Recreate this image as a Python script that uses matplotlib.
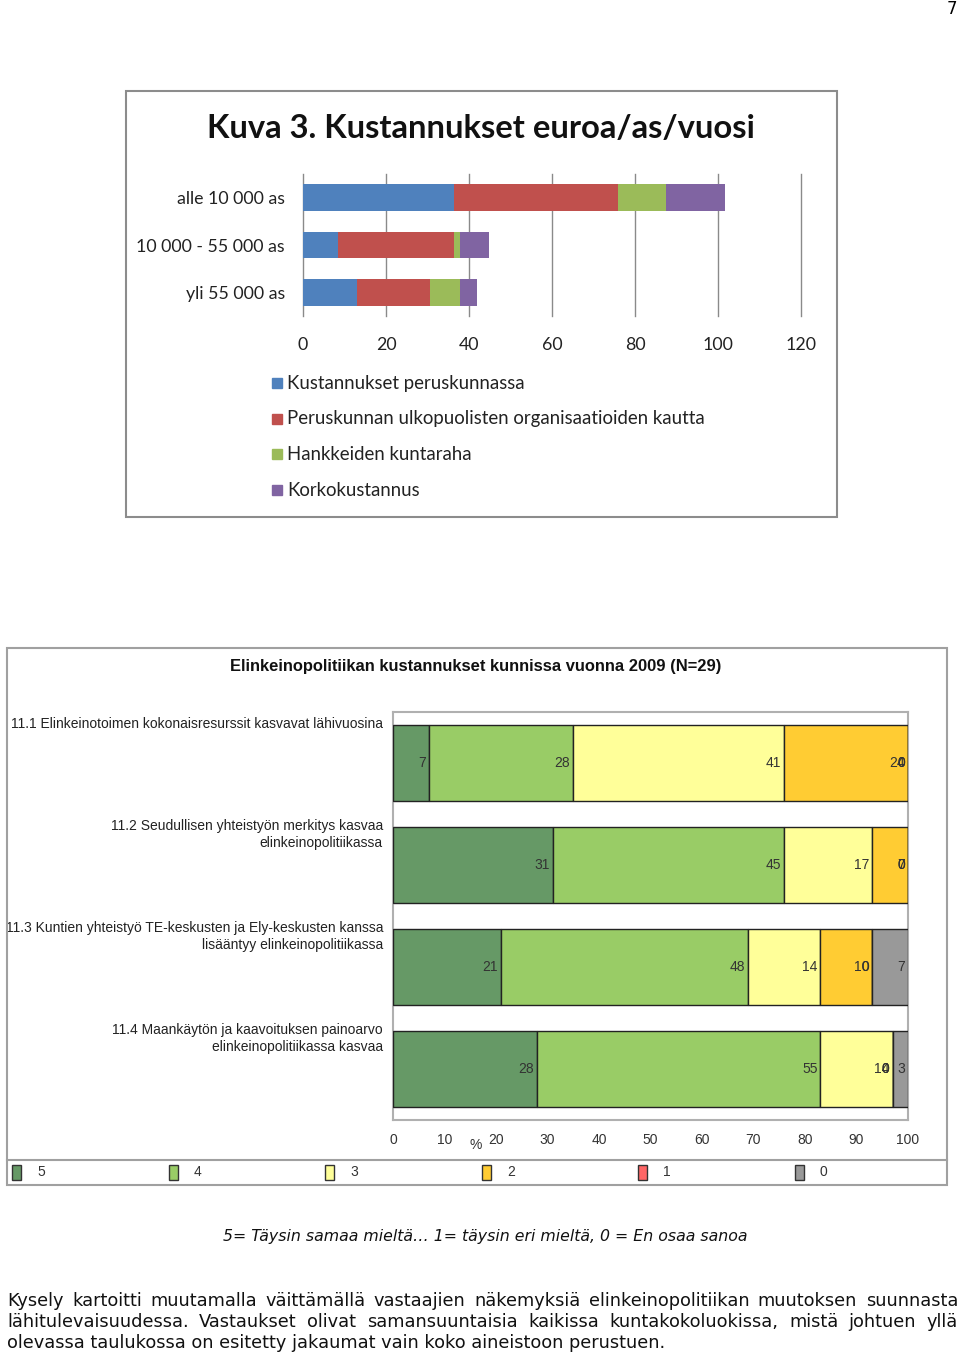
import matplotlib
matplotlib.use("Agg")
import matplotlib.pyplot as plt
from matplotlib.patches import Rectangle
from matplotlib.lines import Line2D
import numpy as np

W, H = 960, 1354

# --- Kuva 3: costs per inhabitant per year ---
size_groups = ["alle 10 000 as", "10 000 - 55 000 as", "yli 55 000 as"]
cost_series = [
    "Kustannukset peruskunnassa",
    "Peruskunnan ulkopuolisten organisaatioiden kautta",
    "Hankkeiden kuntaraha",
    "Korkokustannus",
]
cost_basic = [36.4, 8.4, 13.0]
cost_outside = [39.5, 28.0, 17.5]
cost_projects = [11.6, 1.4, 7.3]
cost_interest = [14.3, 7.0, 4.1]
cost_ticks = [0, 20, 40, 60, 80, 100, 120]

# --- survey, % of answers (N=29) ---
statements = [
    "11.1 Elinkeinotoimen kokonaisresurssit kasvavat lähivuosina",
    "11.2 Seudullisen yhteistyön merkitys kasvaa\nelinkeinopolitiikassa",
    "11.3 Kuntien yhteistyö TE-keskusten ja Ely-keskusten kanssa\nlisääntyy elinkeinopolitiikassa",
    "11.4 Maankäytön ja kaavoituksen painoarvo\nelinkeinopolitiikassa kasvaa",
]
answer_levels = ["5", "4", "3", "2", "1", "0"]
share_5 = [7, 31, 21, 28]
share_4 = [28, 45, 48, 55]
share_3 = [41, 17, 14, 14]
share_2 = [24, 7, 10, 0]
share_1 = [0, 0, 0, 0]
share_0 = [0, 0, 7, 3]
pct_ticks = [0, 10, 20, 30, 40, 50, 60, 70, 80, 90, 100]

paragraph = [
    "Kysely kartoitti muutamalla väittämällä vastaajien näkemyksiä elinkeinopolitiikan muutoksen suunnasta",
    "lähitulevaisuudessa. Vastaukset olivat samansuuntaisia kaikissa kuntakokoluokissa, mistä johtuen yllä",
    "olevassa taulukossa on esitetty jakaumat vain koko aineistoon perustuen.",
]
caption = "5= Täysin samaa mieltä… 1= täysin eri mieltä, 0 = En osaa sanoa"


def px_box(x0, y0, x1, y1):
    return [x0 / W, 1 - y1 / H, (x1 - x0) / W, (y1 - y0) / H]


def frame(fig, x0, y0, x1, y1, color="#a0a0a0", lw=1.5):
    fig.add_artist(Rectangle((x0 / W, 1 - y1 / H), (x1 - x0) / W, (y1 - y0) / H,
                             transform=fig.transFigure, fill=False, ec=color, lw=lw))


def ftext(fig, x, y, s, **kw):
    return fig.text(x / W, 1 - y / H, s, **kw)


fig = plt.figure(figsize=(W / 100, H / 100), dpi=100)
fig.patch.set_facecolor("white")

ftext(fig, 957, 9, "7", ha="right", va="center", fontsize=12, family="DejaVu Sans")

# ---------------- top chart ----------------
calibri = ["Lato", "DejaVu Sans"]
frame(fig, 126, 91, 837, 517, color="#8c8c8c", lw=1.5)
ftext(fig, 481, 129, "Kuva 3. Kustannukset euroa/as/vuosi", ha="center", va="center",
      fontsize=23.6, fontweight="bold", family=calibri, color="#111111")

ax1 = fig.add_axes(px_box(303, 174, 801, 316))
cost_colors = ["#4f81bd", "#c0504d", "#9bbb59", "#8064a2"]
ypos = np.arange(len(size_groups))
left = np.zeros(len(size_groups))
for vals, col in zip([cost_basic, cost_outside, cost_projects, cost_interest], cost_colors):
    ax1.barh(ypos, vals, height=0.57, left=left, color=col, zorder=3)
    left += np.array(vals)
ax1.set_xlim(0, 120)
ax1.set_ylim(2.5, -0.5)
ax1.set_xticks(cost_ticks)
ax1.set_yticks(ypos)
ax1.set_yticklabels(size_groups, family=calibri, fontsize=12.8, color="#222222")
ax1.set_xticklabels([str(t) for t in cost_ticks], family=calibri, fontsize=12.8, color="#222222")
ax1.tick_params(axis="x", length=0, pad=15)
ax1.tick_params(axis="y", length=0, pad=13)
ax1.grid(axis="x", color="#8a8a8a", lw=1, zorder=0)
for gl in ax1.get_xgridlines():
    gl.set_clip_on(False)
for sp in ax1.spines.values():
    sp.set_visible(False)

for i, (name, col) in enumerate(zip(cost_series, cost_colors)):
    yc = 383 + i * 35.7
    fig.add_artist(Rectangle((272 / W, 1 - (yc + 5) / H), 10 / W, 10 / H,
                             transform=fig.transFigure, color=col))
    ftext(fig, 287, yc, name, ha="left", va="center", fontsize=13.4, family=calibri,
          color="#222222")

# ---------------- bottom chart ----------------
arial = ["Liberation Sans", "DejaVu Sans"]
frame(fig, 7, 648, 947, 1185)
fig.add_artist(Line2D([7 / W, 947 / W], [1 - 1160 / H, 1 - 1160 / H],
                      transform=fig.transFigure, color="#a0a0a0", lw=1.5))
ftext(fig, 476, 666, "Elinkeinopolitiikan kustannukset kunnissa vuonna 2009 (N=29)",
      ha="center", va="center", fontsize=11.9, fontweight="bold", family=arial,
      color="#111111")

ax2 = fig.add_axes(px_box(393, 712, 908, 1120))
level_colors = ["#669966", "#99cc66", "#ffff99", "#ffcc33", "#ff6666", "#999999"]
shares = [share_5, share_4, share_3, share_2, share_1, share_0]
bar_h = 0.745
rows = np.arange(len(statements))
left = np.zeros(len(statements))
for vals, col in zip(shares, level_colors):
    ax2.barh(rows, vals, height=bar_h, left=left, color=col, edgecolor="#222222",
             lw=1, zorder=3)
    for r, v in zip(rows, vals):
        ax2.annotate(str(v), xy=(left[r] + v, r), xytext=(-3, 0), textcoords="offset pixels",
                     ha="right", va="center", fontsize=10, family=arial, color="#333333",
                     zorder=4)
    left += np.array(vals)
ax2.set_xlim(0, 100)
ax2.set_ylim(3.5, -0.5)
ax2.set_xticks(pct_ticks)
ax2.set_xticklabels([str(t) for t in pct_ticks], family=arial, fontsize=10, color="#333333")
ax2.set_yticks([])
ax2.tick_params(axis="x", length=0, pad=9)
for sp in ax2.spines.values():
    sp.set_color("#b0b0b0")
    sp.set_linewidth(1.5)
ax2.set_xlabel("%", family=arial, fontsize=10, color="#333333")
ax2.xaxis.set_label_coords(0.161, -0.062)
ax2.xaxis.label.set_va("center")

for r, lab in zip(rows, statements):
    ax2.annotate(lab, xy=(0, r - bar_h / 2), xycoords=("axes fraction", "data"),
                 xytext=(-10, 8), textcoords="offset pixels", ha="right", va="top",
                 multialignment="right", linespacing=1.3, fontsize=10, family=arial,
                 color="#222222")

for i, (lev, col) in enumerate(zip(answer_levels, level_colors)):
    x0 = 12 + i * 156.6
    fig.add_artist(Rectangle((x0 / W, 1 - 1180 / H), 9 / W, 15 / H,
                             transform=fig.transFigure, fc=col, ec="#333333", lw=1))
    ftext(fig, x0 + 25, 1172, lev, ha="left", va="center", fontsize=10, family=arial,
          color="#333333")

# ---------------- text below ----------------
ftext(fig, 485, 1237, caption, ha="center", va="center", fontsize=11.3,
      family="DejaVu Sans", style="italic", color="#111111")

renderer = fig.canvas.get_renderer()
para_kw = dict(fontsize=12.8, family="DejaVu Sans", color="#111111")
for li, line in enumerate(paragraph):
    y = 1301 + li * 21.2
    words = line.split(" ")
    if li == len(paragraph) - 1:
        ftext(fig, 7, y, line, ha="left", va="center", **para_kw)
        continue
    widths = []
    for w in words:
        t = ftext(fig, 0, 0, w, **para_kw)
        widths.append(t.get_window_extent(renderer).width)
        t.remove()
    gap = (958 - 7 - sum(widths)) / (len(words) - 1)
    x = 7
    for w, wd in zip(words, widths):
        ftext(fig, x, y, w, ha="left", va="center", **para_kw)
        x += wd + gap

fig.savefig("out.png", dpi=100)
